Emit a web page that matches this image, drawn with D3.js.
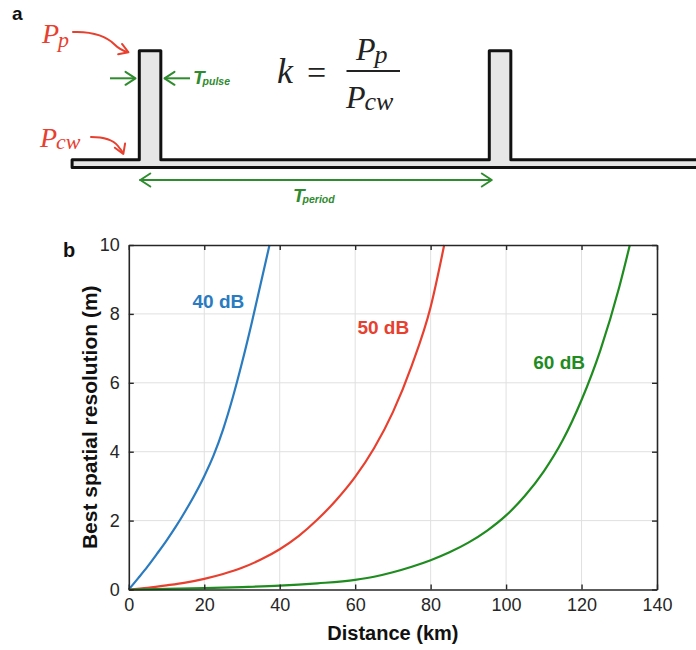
<!DOCTYPE html>
<html>
<head>
<meta charset="utf-8">
<script src="https://cdn.jsdelivr.net/npm/d3@7"></script>
<style>
  html, body { margin: 0; padding: 0; background: #fff; }
  svg { display: block; }
</style>
</head>
<body>
<svg id="chart" width="696" height="650"></svg>
<script>
// ---------- DATA ----------
const xTicks = [0, 20, 40, 60, 80, 100, 120, 140];
const yTicks = [0, 2, 4, 6, 8, 10];

// 40 dB curve (distance km, resolution m)
const dist40 = [0, 2.5, 5, 7.5, 10, 12.5, 15, 17.5, 20, 22.5, 25, 27.5, 30, 32.5, 35, 37.3];
const res40  = [0, 0.33, 0.67, 1.04, 1.42, 1.83, 2.28, 2.76, 3.29, 3.9, 4.65, 5.55, 6.58, 7.7, 8.9, 10];

// 50 dB curve
const dist50 = [0, 5, 10, 15, 20, 25, 30, 35, 40, 45, 50, 55, 60, 65, 70, 75, 80, 83.6];
const res50  = [0, 0.05, 0.12, 0.2, 0.31, 0.45, 0.63, 0.87, 1.17, 1.55, 2.03, 2.6, 3.27, 4.1, 5.15, 6.5, 8.2, 10];

// 60 dB curve
const dist60 = [0, 10, 20, 30, 40, 50, 60, 65, 70, 75, 80, 85, 90, 95, 100, 105, 110, 115, 120, 125, 130, 132.8];
const res60  = [0, 0.02, 0.04, 0.07, 0.11, 0.18, 0.28, 0.37, 0.5, 0.66, 0.85, 1.08, 1.36, 1.71, 2.15, 2.72, 3.43, 4.33, 5.5, 6.95, 8.78, 10];

const seriesNames = ["40 dB", "50 dB", "60 dB"];
const seriesColors = ["#2a7bbf", "#e8402f", "#1f8c1f"];
// label anchors in data units (km, m)
const labelX = [16.9, 60.6, 107.2];
const labelY = [8.17, 7.42, 6.39];

// Schematic (panel a): pulse train in units of period, power levels
const pulseStarts = [0, 1];
const pulseWidth = 0.0615;
const traceStart = -0.192;
const traceEnd = 1.62;
const powerLevels = { zero: 0, cw: 1, peak: 15.2 };

// ---------- DRAW ----------
const svg = d3.select("#chart");
const FONT = "'Liberation Sans', Arial, Helvetica, sans-serif";
const SERIF = "'Liberation Serif', 'Times New Roman', serif";
const RED = "#e8402f";
const GREEN = "#2e8b2e";

// ===== Panel a =====
const tScale = d3.scaleLinear().domain([0, 1]).range([139.3, 489.3]);
const pScale = d3.scaleLinear().domain([0, powerLevels.peak]).range([167.5, 50.8]);

svg.append("text").attr("x", 12).attr("y", 20)
  .attr("font-family", FONT).attr("font-weight", "bold").attr("font-size", 19)
  .attr("fill", "#111").text("a");

// pulse train outline
const pts = [[traceStart, powerLevels.zero], [traceStart, powerLevels.cw]];
pulseStarts.forEach(s => {
  pts.push([s, powerLevels.cw], [s, powerLevels.peak], [s + pulseWidth, powerLevels.peak], [s + pulseWidth, powerLevels.cw]);
});
pts.push([traceEnd, powerLevels.cw], [traceEnd, powerLevels.zero]);
svg.append("path")
  .attr("d", d3.line().x(d => tScale(d[0])).y(d => pScale(d[1]))(pts) + "Z")
  .attr("fill", "#e6e6e6").attr("stroke", "#111").attr("stroke-width", 3)
  .attr("stroke-linejoin", "round");

// arrow helper (open chevron head)
function arrowHead(g, x, y, dir, color, len, half) {
  const a1 = dir + Math.PI - Math.atan2(half, len);
  const a2 = dir + Math.PI + Math.atan2(half, len);
  const L = Math.hypot(len, half);
  g.append("path")
    .attr("d", `M${x + L * Math.cos(a1)},${y + L * Math.sin(a1)}L${x},${y}L${x + L * Math.cos(a2)},${y + L * Math.sin(a2)}`)
    .attr("fill", "none").attr("stroke", color).attr("stroke-width", 2)
    .attr("stroke-linecap", "round").attr("stroke-linejoin", "round");
}
const ga = svg.append("g");

// T_pulse arrows
const yPulse = 78.3;
ga.append("line").attr("x1", 110).attr("y1", yPulse).attr("x2", 135).attr("y2", yPulse)
  .attr("stroke", GREEN).attr("stroke-width", 2);
arrowHead(ga, 135.5, yPulse, 0, GREEN, 10, 6.5);
ga.append("line").attr("x1", 164.5).attr("y1", yPulse).attr("x2", 190).attr("y2", yPulse)
  .attr("stroke", GREEN).attr("stroke-width", 2);
arrowHead(ga, 164.5, yPulse, Math.PI, GREEN, 10, 6.5);

const tp = ga.append("text").attr("x", 193).attr("y", 84)
  .attr("font-family", FONT).attr("font-style", "italic").attr("font-weight", "bold")
  .attr("fill", GREEN).attr("font-size", 19);
tp.append("tspan").text("T");
tp.append("tspan").attr("font-size", 10.5).attr("dx", -2).attr("dy", 1).text("pulse");

// T_period double arrow
const yPer = 180;
ga.append("line").attr("x1", tScale(0)).attr("y1", yPer).attr("x2", tScale(1) + 2).attr("y2", yPer)
  .attr("stroke", GREEN).attr("stroke-width", 2);
arrowHead(ga, tScale(0) + 1, yPer, Math.PI, GREEN, 10, 6.5);
arrowHead(ga, tScale(1) + 2.5, yPer, 0, GREEN, 10, 6.5);
const tpe = ga.append("text").attr("x", 293).attr("y", 202)
  .attr("font-family", FONT).attr("font-style", "italic").attr("font-weight", "bold")
  .attr("fill", GREEN).attr("font-size", 19);
tpe.append("tspan").text("T");
tpe.append("tspan").attr("font-size", 10.5).attr("dx", -2).attr("dy", 1).text("period");

// red labels P_p and P_cw
const pp = ga.append("text").attr("x", 42).attr("y", 43)
  .attr("font-family", SERIF).attr("font-style", "italic").attr("fill", RED).attr("font-size", 28);
pp.append("tspan").text("P");
pp.append("tspan").attr("font-size", 22).attr("dy", 4).attr("dx", -1).text("p");

const pcw = ga.append("text").attr("x", 40).attr("y", 147)
  .attr("font-family", SERIF).attr("font-style", "italic").attr("fill", RED).attr("font-size", 28);
pcw.append("tspan").text("P");
pcw.append("tspan").attr("font-size", 22).attr("dy", 2).attr("dx", -1).text("cw");

// red curved arrows
ga.append("path").attr("d", "M73,32 C95,31 108,38 114,44 C119,49 123,51 128,52")
  .attr("fill", "none").attr("stroke", RED).attr("stroke-width", 2).attr("stroke-linecap", "round");
arrowHead(ga, 128.5, 52.3, Math.atan2(3, 8), RED, 9, 5.5);
ga.append("path").attr("d", "M91,137 C105,137 114,141 118,146 C120,149 122,151 123,153")
  .attr("fill", "none").attr("stroke", RED).attr("stroke-width", 2).attr("stroke-linecap", "round");
arrowHead(ga, 123.3, 154, Math.atan2(5, 2), RED, 9, 5.5);

// formula k = Pp / Pcw
const fg = svg.append("g").attr("font-family", SERIF).attr("font-style", "italic").attr("fill", "#222");
fg.append("text").attr("x", 277).attr("y", 83).attr("font-size", 36).text("k");
fg.append("text").attr("x", 307).attr("y", 84).attr("font-size", 34).attr("font-style", "normal").text("=");
fg.append("line").attr("x1", 346.5).attr("x2", 400).attr("y1", 71).attr("y2", 71)
  .attr("stroke", "#222").attr("stroke-width", 2);
const num = fg.append("text").attr("x", 356).attr("y", 60).attr("font-size", 32);
num.append("tspan").text("P");
num.append("tspan").attr("font-size", 26).attr("dy", 3).attr("dx", -1).text("p");
const den = fg.append("text").attr("x", 346).attr("y", 108).attr("font-size", 32);
den.append("tspan").text("P");
den.append("tspan").attr("font-size", 26).attr("dy", 2).attr("dx", -1).text("cw");

// ===== Panel b =====
const x = d3.scaleLinear().domain([0, 140]).range([128.8, 657]);
const y = d3.scaleLinear().domain([0, 10]).range([589.5, 245]);
const AX = "#262626";

svg.append("text").attr("x", 63).attr("y", 257)
  .attr("font-family", FONT).attr("font-weight", "bold").attr("font-size", 20)
  .attr("fill", "#111").text("b");

// grid
const grid = svg.append("g");
grid.selectAll("line.gx").data(xTicks.slice(1, -1)).join("line")
  .attr("x1", d => x(d)).attr("x2", d => x(d)).attr("y1", y(0)).attr("y2", y(10))
  .attr("stroke", "#e0e0e0").attr("stroke-width", 1);
grid.selectAll("line.gy").data(yTicks.slice(1, -1)).join("line")
  .attr("x1", x(0)).attr("x2", x(140)).attr("y1", d => y(d)).attr("y2", d => y(d))
  .attr("stroke", "#e0e0e0").attr("stroke-width", 1);

// curves
const curves = [
  dist40.map((d, i) => [d, res40[i]]),
  dist50.map((d, i) => [d, res50[i]]),
  dist60.map((d, i) => [d, res60[i]])
];
const line = d3.line().x(d => x(d[0])).y(d => y(d[1])).curve(d3.curveMonotoneX);
svg.append("g").selectAll("path").data(curves).join("path")
  .attr("d", line).attr("fill", "none")
  .attr("stroke", (d, i) => seriesColors[i]).attr("stroke-width", 2.2);

// axes (box with inward ticks)
function styleAxis(g) {
  g.selectAll(".domain").attr("stroke", AX).attr("stroke-width", 1.6);
  g.selectAll(".tick line").attr("stroke", AX).attr("stroke-width", 1.4);
  g.selectAll("text").attr("fill", AX).attr("font-family", FONT).attr("font-size", 18);
}
const gxB = svg.append("g").attr("transform", `translate(0,${y(0)})`)
  .call(d3.axisBottom(x).tickValues(xTicks).tickSizeInner(-5).tickSizeOuter(0).tickPadding(9).tickFormat(d3.format("d")));
styleAxis(gxB);
const gxT = svg.append("g").attr("transform", `translate(0,${y(10)})`)
  .call(d3.axisTop(x).tickValues(xTicks).tickSizeInner(-5).tickSizeOuter(0).tickFormat(""));
styleAxis(gxT);
const gyL = svg.append("g").attr("transform", `translate(${x(0)},0)`)
  .call(d3.axisLeft(y).tickValues(yTicks).tickSizeInner(-5).tickSizeOuter(0).tickPadding(9).tickFormat(d3.format("d")));
styleAxis(gyL);
const gyR = svg.append("g").attr("transform", `translate(${x(140)},0)`)
  .call(d3.axisRight(y).tickValues(yTicks).tickSizeInner(-5).tickSizeOuter(0).tickFormat(""));
styleAxis(gyR);

// axis titles
svg.append("text").attr("x", (x(0) + x(140)) / 2).attr("y", 640)
  .attr("text-anchor", "middle").attr("font-family", FONT).attr("font-weight", "bold")
  .attr("font-size", 20).attr("fill", "#111").text("Distance (km)");
svg.append("text").attr("transform", `translate(97,${(y(0) + y(10)) / 2}) rotate(-90)`)
  .attr("text-anchor", "middle").attr("font-family", FONT).attr("font-weight", "bold")
  .attr("font-size", 21).attr("fill", "#111").text("Best spatial resolution (m)");

// curve labels
svg.append("g").selectAll("text").data(seriesNames).join("text")
  .attr("x", (d, i) => x(labelX[i])).attr("y", (d, i) => y(labelY[i]))
  .attr("font-family", FONT).attr("font-weight", "bold").attr("font-size", 19)
  .attr("fill", (d, i) => seriesColors[i]).text(d => d);
</script>
</body>
</html>
